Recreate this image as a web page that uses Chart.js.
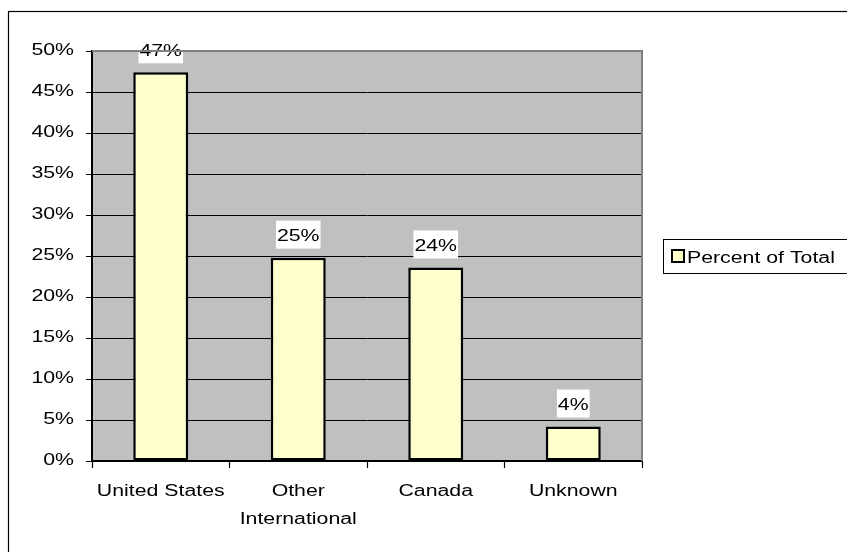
<!DOCTYPE html>
<html>
<head>
<meta charset="utf-8">
<script src="https://cdn.jsdelivr.net/npm/chart.js@4.4.1/dist/chart.umd.min.js"></script>
<style>
  html, body { margin: 0; padding: 0; background: #fff; }
  canvas { display: block; }
</style>
</head>
<body>
<canvas id="c" width="847" height="552"></canvas>
<script>
// Origin of records, share of total
const categories = ['United States', ['Other', 'International'], 'Canada', 'Unknown'];
const seriesName = 'Percent of Total';
const percentOfTotal = [47.4, 24.8, 23.6, 4.2];
const yTickValues = [0, 5, 10, 15, 20, 25, 30, 35, 40, 45, 50];

const FONT = { family: "'Liberation Sans', Arial, sans-serif", size: 16 };
const FONT_CSS = "16px 'Liberation Sans', Arial, sans-serif";
const TEXT_STRETCH = 1.33; // wide lettering, drawn by scaling text horizontally

const canvas = document.getElementById('c');
const ctx = canvas.getContext('2d');
const baseFill = ctx.fillText.bind(ctx);
const baseMeasure = ctx.measureText.bind(ctx);
ctx.fillText = function (text, x, y) {
  this.save();
  this.translate(x, y);
  this.scale(TEXT_STRETCH, 1);
  baseFill(text, 0, 0);
  this.restore();
};
ctx.measureText = function (text) {
  const m = baseMeasure(text);
  return {
    width: m.width * TEXT_STRETCH,
    actualBoundingBoxAscent: m.actualBoundingBoxAscent,
    actualBoundingBoxDescent: m.actualBoundingBoxDescent,
    actualBoundingBoxLeft: m.actualBoundingBoxLeft * TEXT_STRETCH,
    actualBoundingBoxRight: m.actualBoundingBoxRight * TEXT_STRETCH,
    fontBoundingBoxAscent: m.fontBoundingBoxAscent,
    fontBoundingBoxDescent: m.fontBoundingBoxDescent
  };
};

// Gray plot background, plot frame, outer frame and legend
const framePlugin = {
  id: 'frame',
  beforeDraw(chart) {
    const c = chart.ctx, a = chart.chartArea;
    c.save();
    c.fillStyle = '#ffffff';
    c.fillRect(0, 0, chart.width, chart.height);
    c.fillStyle = '#c0c0c0';
    c.fillRect(a.left, a.top, a.right - a.left, a.bottom - a.top);
    c.restore();
  },
  afterDraw(chart) {
    const c = chart.ctx, a = chart.chartArea;
    c.save();
    // plot frame: top and right edges
    c.strokeStyle = '#808080';
    c.lineWidth = 2;
    c.beginPath();
    c.moveTo(a.left, a.top);
    c.lineTo(a.right, a.top);
    c.lineTo(a.right, a.bottom);
    c.stroke();
    // outer chart frame
    c.strokeStyle = '#000';
    c.lineWidth = 1.2;
    c.strokeRect(8.5, 11.5, chart.width + 20, chart.height + 20);
    // legend
    const ds = chart.data.datasets[0];
    c.lineWidth = 1;
    c.strokeStyle = '#000';
    c.fillStyle = '#fff';
    c.fillRect(663.5, 239.5, 220, 34);
    c.strokeRect(663.5, 239.5, 220, 34);
    c.fillStyle = ds.backgroundColor;
    c.fillRect(672, 250, 12, 12);
    c.lineWidth = 2;
    c.strokeRect(672, 250, 12, 12);
    c.fillStyle = '#000';
    c.font = FONT_CSS;
    c.textAlign = 'left';
    c.textBaseline = 'alphabetic';
    c.fillText(ds.label, 687, 263);
    c.restore();
  }
};

// Value labels on white boxes above each bar
const valueLabelPlugin = {
  id: 'valueLabels',
  afterDatasetsDraw(chart) {
    const c = chart.ctx;
    const meta = chart.getDatasetMeta(0);
    const values = chart.data.datasets[0].data;
    c.save();
    c.font = FONT_CSS;
    meta.data.forEach((bar, i) => {
      const text = Math.round(values[i]) + '%';
      const w = c.measureText(text).width + 2;
      const boxBottom = bar.y - 9;
      c.fillStyle = '#fff';
      c.fillRect(bar.x - w / 2, boxBottom - 28, w, 28);
      c.fillStyle = '#000';
      c.textAlign = 'center';
      c.textBaseline = 'alphabetic';
      c.fillText(text, bar.x, bar.y - 16.5);
    });
    c.restore();
  }
};

new Chart(ctx, {
  type: 'bar',
  data: {
    labels: categories,
    datasets: [{
      label: seriesName,
      data: percentOfTotal,
      backgroundColor: '#ffffcc',
      borderColor: '#000',
      borderWidth: 2.5,
      borderSkipped: false,
      barPercentage: 0.4,
      categoryPercentage: 1.0
    }]
  },
  options: {
    responsive: false,
    animation: false,
    devicePixelRatio: 1,
    layout: { padding: { top: 51, right: 205, left: 0, bottom: 0 } },
    plugins: {
      legend: { display: false },
      title: { display: false },
      tooltip: { enabled: false }
    },
    scales: {
      x: {
        offset: true,
        grid: {
          offset: true,
          drawOnChartArea: false,
          drawTicks: true,
          tickLength: 7,
          tickColor: '#000',
          tickWidth: 1.2
        },
        border: { color: '#000', width: 2 },
        ticks: {
          color: '#000',
          font: { ...FONT, lineHeight: 1.75 },
          padding: 10,
          maxRotation: 0,
          autoSkip: false
        },
        afterFit(scale) { scale.height = 91; }
      },
      y: {
        min: 0,
        max: 50,
        afterBuildTicks(scale) { scale.ticks = yTickValues.map(v => ({ value: v })); },
        grid: {
          color: (c) => (c.tick && c.tick.value === 50) ? 'rgba(0,0,0,0)' : '#000',
          lineWidth: 1,
          tickColor: '#000',
          tickLength: 6,
          drawTicks: true
        },
        border: { color: '#000', width: 2 },
        ticks: {
          color: '#000',
          font: FONT,
          padding: 12,
          callback: (v) => v + '%'
        },
        afterFit(scale) { scale.width = 92; }
      }
    }
  },
  plugins: [framePlugin, valueLabelPlugin]
});
</script>
</body>
</html>
